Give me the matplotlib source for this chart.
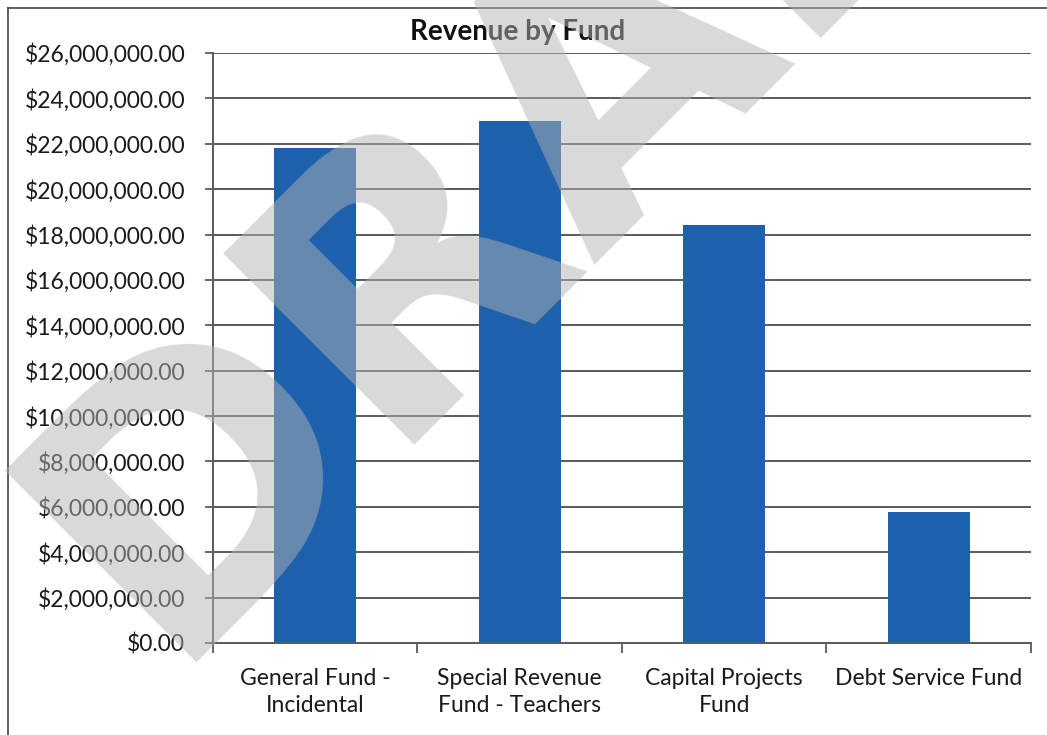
import numpy as np
import matplotlib
matplotlib.use('Agg')
import matplotlib.pyplot as plt
from matplotlib.ticker import FuncFormatter, MultipleLocator
from matplotlib.lines import Line2D

funds = ['General Fund -\nIncidental', 'Special Revenue\nFund - Teachers',
         'Capital Projects\nFund', 'Debt Service Fund']
revenue = [21800000, 23000000, 18420000, 5780000]

plt.rcParams['font.family'] = ['Lato', 'DejaVu Sans']

fig = plt.figure(figsize=(10.47, 7.35), dpi=100)
ax = fig.add_axes([0.2034, 0.1252, 0.7813, 0.8027])

x = np.arange(len(funds))
ax.bar(x, revenue, width=0.40, color='#1d61ad', zorder=2)

ax.set_xlim(-0.5, len(funds) - 0.5)
ax.set_ylim(0, 26000000)
ax.yaxis.set_major_locator(MultipleLocator(2000000))
ax.yaxis.set_major_formatter(FuncFormatter(lambda v, p: f'${v:,.2f}'))
ax.grid(axis='y', color='#5a5a5a', linewidth=1.4, zorder=0)

ax.set_xticks(x)
ax.set_xticklabels(funds, fontsize=16.5, color='#1a1a1a', linespacing=1.35)
ax.set_xticks(np.arange(len(funds) + 1) - 0.5, minor=True)
ax.tick_params(axis='x', which='major', length=0, pad=18)
ax.tick_params(axis='x', which='minor', length=7, width=1.3, color='#5a5a5a')
ax.tick_params(axis='y', length=6, width=1.3, color='#5a5a5a', labelsize=16.5,
               labelcolor='#1a1a1a', pad=14)

for side in ['top', 'right']:
    ax.spines[side].set_visible(False)
for side in ['left', 'bottom']:
    ax.spines[side].set_color('#5a5a5a')
    ax.spines[side].set_linewidth(1.4)

fig.text(0.494, 0.956, 'Revenue by Fund', ha='center', va='center',
         fontsize=20, fontweight='bold', color='#111111')

# chart frame (left and top edges of the scanned chart box)
fig.add_artist(Line2D([8 / 1047, 8 / 1047], [0.0, 1 - 8 / 735],
                      transform=fig.transFigure, color='#444444', linewidth=1.2))
fig.add_artist(Line2D([8 / 1047, 1.0], [1 - 8 / 735, 1 - 8 / 735],
                      transform=fig.transFigure, color='#444444', linewidth=1.2))

# DRAFT watermark
fig.text(0.556, 0.868, 'DRAFT', ha='center', va='center', rotation=45,
         rotation_mode='anchor', fontsize=268, fontweight='bold',
         family='DejaVu Sans', color='#b3b3b3', alpha=0.5, zorder=10)

fig.savefig('out.png', dpi=100)
